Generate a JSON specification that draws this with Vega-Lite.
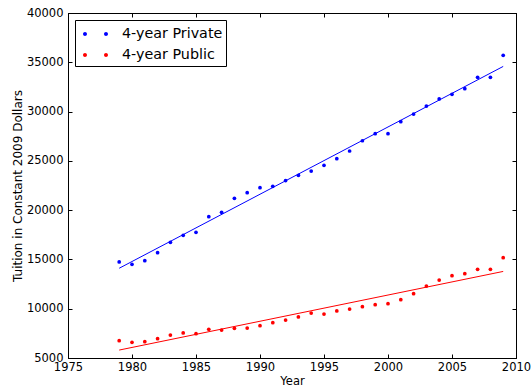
{
  "$schema": "https://vega.github.io/schema/vega-lite/v6.json",
  "width": 448,
  "height": 345,
  "autosize": "none",
  "padding": {"left": 68, "top": 13, "right": 15, "bottom": 32},
  "background": "white",
  "config": {
    "font": "DejaVu Sans",
    "view": {"stroke": "black", "strokeWidth": 1},
    "axis": {
      "domainColor": "black",
      "tickColor": "black",
      "labelColor": "black",
      "titleColor": "black",
      "labelFont": "DejaVu Sans",
      "titleFont": "DejaVu Sans",
      "labelFontSize": 11.5,
      "titleFontSize": 11.5,
      "titleFontWeight": "normal",
      "grid": false,
      "tickSize": -4,
      "labelFlush": false,
      "labelOverlap": false
    },
    "legend": {
      "orient": "none",
      "legendX": 7,
      "legendY": 7,
      "strokeColor": "black",
      "fillColor": "white",
      "cornerRadius": 0,
      "padding": 3,
      "labelFont": "DejaVu Sans",
      "labelFontSize": 14.3,
      "labelColor": "black",
      "labelOffset": 15.5,
      "rowPadding": 2,
      "symbolOffset": 6.5,
      "symbolType": "M-1.135,0A0.18,0.18 0 1,0 -0.775,0A0.18,0.18 0 1,0 -1.135,0Z M0.775,0A0.18,0.18 0 1,0 1.135,0A0.18,0.18 0 1,0 0.775,0Z",
      "symbolSize": 484,
      "symbolStrokeWidth": 0
    }
  },
  "data": {
    "values": [
      {"Year": 1979, "Tuition": 14740, "Type": "4-year Private"},
      {"Year": 1980, "Tuition": 14500, "Type": "4-year Private"},
      {"Year": 1981, "Tuition": 14870, "Type": "4-year Private"},
      {"Year": 1982, "Tuition": 15680, "Type": "4-year Private"},
      {"Year": 1983, "Tuition": 16740, "Type": "4-year Private"},
      {"Year": 1984, "Tuition": 17450, "Type": "4-year Private"},
      {"Year": 1985, "Tuition": 17750, "Type": "4-year Private"},
      {"Year": 1986, "Tuition": 19340, "Type": "4-year Private"},
      {"Year": 1987, "Tuition": 19780, "Type": "4-year Private"},
      {"Year": 1988, "Tuition": 21200, "Type": "4-year Private"},
      {"Year": 1989, "Tuition": 21770, "Type": "4-year Private"},
      {"Year": 1990, "Tuition": 22280, "Type": "4-year Private"},
      {"Year": 1991, "Tuition": 22420, "Type": "4-year Private"},
      {"Year": 1992, "Tuition": 23000, "Type": "4-year Private"},
      {"Year": 1993, "Tuition": 23530, "Type": "4-year Private"},
      {"Year": 1994, "Tuition": 23970, "Type": "4-year Private"},
      {"Year": 1995, "Tuition": 24550, "Type": "4-year Private"},
      {"Year": 1996, "Tuition": 25220, "Type": "4-year Private"},
      {"Year": 1997, "Tuition": 26000, "Type": "4-year Private"},
      {"Year": 1998, "Tuition": 27040, "Type": "4-year Private"},
      {"Year": 1999, "Tuition": 27760, "Type": "4-year Private"},
      {"Year": 2000, "Tuition": 27760, "Type": "4-year Private"},
      {"Year": 2001, "Tuition": 28970, "Type": "4-year Private"},
      {"Year": 2002, "Tuition": 29750, "Type": "4-year Private"},
      {"Year": 2003, "Tuition": 30560, "Type": "4-year Private"},
      {"Year": 2004, "Tuition": 31280, "Type": "4-year Private"},
      {"Year": 2005, "Tuition": 31750, "Type": "4-year Private"},
      {"Year": 2006, "Tuition": 32320, "Type": "4-year Private"},
      {"Year": 2007, "Tuition": 33470, "Type": "4-year Private"},
      {"Year": 2008, "Tuition": 33470, "Type": "4-year Private"},
      {"Year": 2009, "Tuition": 35710, "Type": "4-year Private"},
      {"Year": 1979, "Tuition": 6755, "Type": "4-year Public"},
      {"Year": 1980, "Tuition": 6590, "Type": "4-year Public"},
      {"Year": 1981, "Tuition": 6650, "Type": "4-year Public"},
      {"Year": 1982, "Tuition": 6960, "Type": "4-year Public"},
      {"Year": 1983, "Tuition": 7330, "Type": "4-year Public"},
      {"Year": 1984, "Tuition": 7540, "Type": "4-year Public"},
      {"Year": 1985, "Tuition": 7470, "Type": "4-year Public"},
      {"Year": 1986, "Tuition": 7910, "Type": "4-year Public"},
      {"Year": 1987, "Tuition": 7840, "Type": "4-year Public"},
      {"Year": 1988, "Tuition": 8010, "Type": "4-year Public"},
      {"Year": 1989, "Tuition": 8040, "Type": "4-year Public"},
      {"Year": 1990, "Tuition": 8280, "Type": "4-year Public"},
      {"Year": 1991, "Tuition": 8580, "Type": "4-year Public"},
      {"Year": 1992, "Tuition": 8850, "Type": "4-year Public"},
      {"Year": 1993, "Tuition": 9160, "Type": "4-year Public"},
      {"Year": 1994, "Tuition": 9560, "Type": "4-year Public"},
      {"Year": 1995, "Tuition": 9460, "Type": "4-year Public"},
      {"Year": 1996, "Tuition": 9770, "Type": "4-year Public"},
      {"Year": 1997, "Tuition": 9970, "Type": "4-year Public"},
      {"Year": 1998, "Tuition": 10200, "Type": "4-year Public"},
      {"Year": 1999, "Tuition": 10410, "Type": "4-year Public"},
      {"Year": 2000, "Tuition": 10510, "Type": "4-year Public"},
      {"Year": 2001, "Tuition": 10920, "Type": "4-year Public"},
      {"Year": 2002, "Tuition": 11530, "Type": "4-year Public"},
      {"Year": 2003, "Tuition": 12300, "Type": "4-year Public"},
      {"Year": 2004, "Tuition": 12910, "Type": "4-year Public"},
      {"Year": 2005, "Tuition": 13350, "Type": "4-year Public"},
      {"Year": 2006, "Tuition": 13550, "Type": "4-year Public"},
      {"Year": 2007, "Tuition": 14000, "Type": "4-year Public"},
      {"Year": 2008, "Tuition": 14000, "Type": "4-year Public"},
      {"Year": 2009, "Tuition": 15180, "Type": "4-year Public"}
    ]
  },
  "layer": [
    {
      "mark": {"type": "point", "filled": true, "size": 14, "opacity": 1},
      "encoding": {
        "x": {
          "field": "Year", "type": "quantitative",
          "scale": {"domain": [1975, 2010], "nice": false, "zero": false},
          "axis": {"orient": "bottom", "values": [1975, 1980, 1985, 1990, 1995, 2000, 2005, 2010], "format": "d", "title": "Year", "labelPadding": 7, "titlePadding": 3}
        },
        "y": {
          "field": "Tuition", "type": "quantitative",
          "scale": {"domain": [5000, 40000], "nice": false, "zero": false},
          "axis": {"orient": "left", "values": [5000, 10000, 15000, 20000, 25000, 30000, 35000, 40000], "format": "d", "title": "Tuition in Constant 2009 Dollars", "titleFontSize": 12, "labelPadding": 9, "titlePadding": 2}
        },
        "color": {
          "field": "Type", "type": "nominal",
          "scale": {"domain": ["4-year Private", "4-year Public"], "range": ["#0000ff", "#ff0000"]},
          "legend": {"title": null}
        }
      }
    },
    {
      "transform": [
        {"regression": "Tuition", "on": "Year", "groupby": ["Type"], "method": "linear"}
      ],
      "mark": {"type": "line", "strokeWidth": 1},
      "encoding": {
        "x": {"field": "Year", "type": "quantitative", "axis": null},
        "y": {"field": "Tuition", "type": "quantitative", "axis": null},
        "color": {"field": "Type", "type": "nominal", "legend": null}
      }
    },
    {
      "mark": {"type": "point", "opacity": 0},
      "encoding": {
        "x": {
          "field": "Year", "type": "quantitative",
          "axis": {"orient": "top", "values": [1975, 1980, 1985, 1990, 1995, 2000, 2005, 2010], "labels": false, "title": null}
        },
        "y": {
          "field": "Tuition", "type": "quantitative",
          "axis": {"orient": "right", "values": [5000, 10000, 15000, 20000, 25000, 30000, 35000, 40000], "labels": false, "title": null}
        }
      }
    }
  ],
  "resolve": {"axis": {"x": "independent", "y": "independent"}}
}
